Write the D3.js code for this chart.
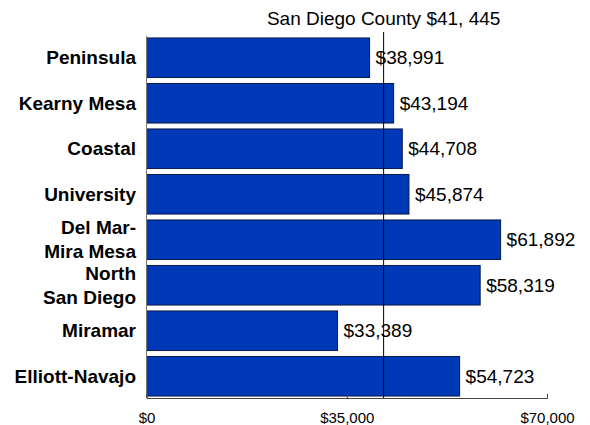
<!DOCTYPE html>
<html>
<head>
<meta charset="utf-8">
<script src="https://cdn.jsdelivr.net/npm/d3@7"></script>
<style>
  html, body { margin: 0; padding: 0; background: #fff; }
  svg { display: block; font-family: "Liberation Sans", Arial, sans-serif; }
</style>
</head>
<body>
<svg id="chart" width="590" height="425"></svg>
<script>
// Median household income by community planning area
const areas = ["Peninsula", "Kearny Mesa", "Coastal", "University", "Del Mar-\nMira Mesa", "North\nSan Diego", "Miramar", "Elliott-Navajo"];
const incomes = [38991, 43194, 44708, 45874, 61892, 58319, 33389, 54723];
const countyIncome = 41445;
const countyLabel = "San Diego County $41, 445";
const tickValues = [0, 35000, 70000];

const svg = d3.select("#chart");
const fmt = d3.format(",");

const x = d3.scaleLinear().domain([0, 70000]).range([146.5, 547]);
const y = d3.scaleBand().domain(areas).range([35, 399]).paddingInner(0.13).paddingOuter(0.065);

// bars
svg.append("g").selectAll("rect")
  .data(areas)
  .join("rect")
  .attr("x", x(0))
  .attr("y", d => y(d))
  .attr("width", (d, i) => x(incomes[i]) - x(0))
  .attr("height", y.bandwidth())
  .attr("fill", "#0039b8")
  .attr("stroke", "#0b1a45")
  .attr("stroke-width", 1);

// value labels
svg.append("g").selectAll("text")
  .data(areas)
  .join("text")
  .attr("x", (d, i) => x(incomes[i]) + 6)
  .attr("y", d => y(d) + y.bandwidth() / 2)
  .attr("dy", "0.35em")
  .attr("font-size", 19)
  .attr("fill", "#000")
  .text((d, i) => "$" + fmt(incomes[i]));

// category labels (bold, right aligned, may wrap to two lines)
const catG = svg.append("g");
areas.forEach(name => {
  const lines = name.split("\n");
  const cy = y(name) + y.bandwidth() / 2;
  const lh = 24;
  const t = catG.append("text")
    .attr("text-anchor", "end")
    .attr("font-size", 19)
    .attr("font-weight", "bold")
    .attr("fill", "#000");
  lines.forEach((ln, j) => {
    t.append("tspan")
      .attr("x", 136)
      .attr("y", cy + (j - (lines.length - 1) / 2) * lh)
      .attr("dy", "0.35em")
      .text(ln);
  });
});

// left axis line
svg.append("line")
  .attr("x1", x(0)).attr("x2", x(0))
  .attr("y1", 36).attr("y2", 398)
  .attr("stroke", "#777").attr("stroke-width", 1);

// bottom axis
const xAxis = d3.axisBottom(x)
  .tickValues(tickValues)
  .tickSize(-4)
  .tickPadding(14)
  .tickFormat(d => "$" + fmt(d));
const gx = svg.append("g").attr("transform", "translate(0,398)").call(xAxis);
gx.select(".domain").attr("stroke", "#444");
gx.selectAll(".tick line").attr("stroke", "#444");
gx.selectAll(".tick text")
  .attr("font-size", 15)
  .attr("font-family", "\"Liberation Sans\", Arial, sans-serif")
  .attr("fill", "#000");

// county reference line
svg.append("line")
  .attr("x1", x(countyIncome)).attr("x2", x(countyIncome))
  .attr("y1", 32).attr("y2", 398)
  .attr("stroke", "#000").attr("stroke-width", 1);

svg.append("text")
  .attr("x", x(countyIncome))
  .attr("y", 25)
  .attr("text-anchor", "middle")
  .attr("font-size", 19)
  .attr("fill", "#000")
  .text(countyLabel);
</script>
</body>
</html>
